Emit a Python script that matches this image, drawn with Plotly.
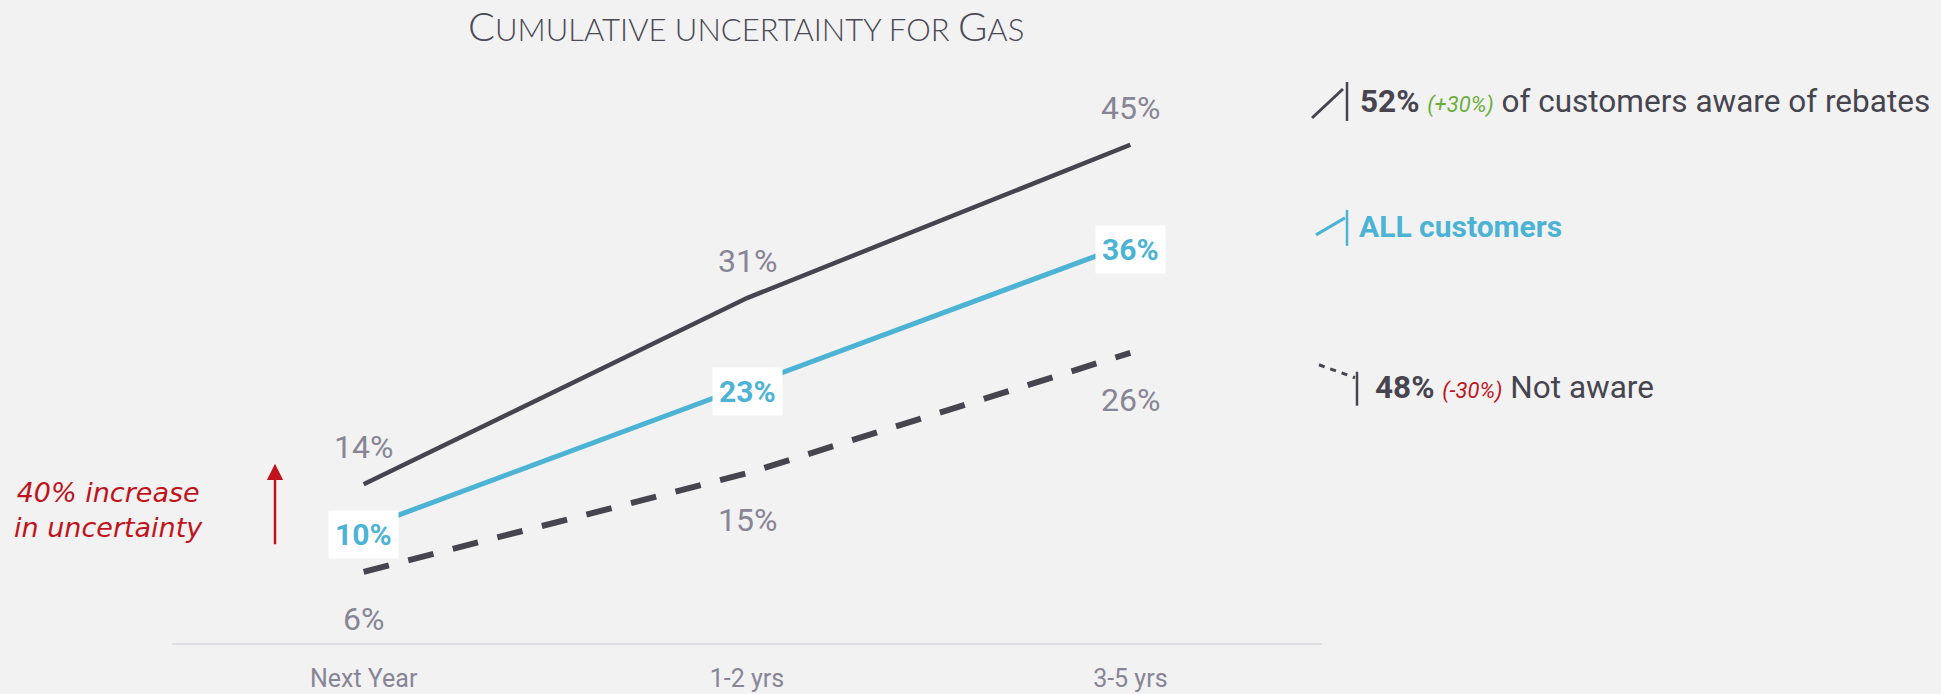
import plotly.graph_objects as go

categories = ["Next Year", "1-2 yrs", "3-5 yrs"]
aware = [14, 31, 45]
all_customers = [10, 23, 36]
not_aware = [6, 15, 26]

title_big_small = [("C", "UMULATIVE UNCERTAINTY FOR "), ("G", "AS")]
legend_aware = ("52%", "(+30%)", "of customers aware of rebates")
legend_all = "ALL customers"
legend_not = ("48%", "(-30%)", "Not aware")
note_text = "40% increase<br>in uncertainty"

DARK = "#46454f"
BLUE = "#4cb3d4"
GRAY = "#878596"
RED = "#c0141c"
GREEN = "#6aaf3d"
BG = "#f2f2f2"

W, H = 1941, 694
L, R, T, B = 172, 619, 90, 50.5
PW = W - L - R
PH = H - T - B


def px(x):
    return (x - L) / PW


def py(y):
    return (H - B - y) / PH


xs = list(range(len(categories)))

fig = go.Figure()
fig.add_trace(go.Scatter(x=xs, y=aware, mode="lines",
                         line=dict(color=DARK, width=4.5), hoverinfo="skip"))
fig.add_trace(go.Scatter(x=xs, y=all_customers, mode="lines",
                         line=dict(color=BLUE, width=5), hoverinfo="skip"))
fig.add_trace(go.Scatter(x=xs, y=not_aware, mode="lines",
                         line=dict(color=DARK, width=6, dash="26px,20px"),
                         hoverinfo="skip"))

ann = []
for x, v in zip(xs, aware):
    ann.append(dict(x=x, y=v, text=f"{v}%", showarrow=False, yshift=37,
                    font=dict(family="Roboto", size=32, color=GRAY)))
for x, v in zip(xs, not_aware):
    ann.append(dict(x=x, y=v, text=f"{v}%", showarrow=False, yshift=-47,
                    font=dict(family="Roboto", size=32, color=GRAY)))
for x, v in zip(xs, all_customers):
    ann.append(dict(x=x, y=v, text=f"<b>{v}%</b>", showarrow=False, yshift=-6,
                    bgcolor="white", borderpad=6,
                    font=dict(family="Roboto", size=30, color=BLUE)))

# title (small caps emulation)
ttl = "".join(f"<span style='font-size:40px'>{a}</span>{b}" for a, b in title_big_small)
ann.append(dict(xref="paper", yref="paper", x=px(746), y=py(0), text=ttl,
                showarrow=False, xanchor="center", yanchor="top",
                font=dict(family="Lato", size=31, color="#4a4955", weight=300)))

# legend texts
ann.append(dict(xref="paper", yref="paper", x=px(1358), y=py(102), xanchor="left",
                yanchor="middle", showarrow=False,
                text=f"<b>{legend_aware[0]}</b> <i><span style='color:{GREEN};font-size:22px'>{legend_aware[1]}</span></i> {legend_aware[2]}",
                font=dict(family="Roboto", size=31.5, color=DARK)))
ann.append(dict(xref="paper", yref="paper", x=px(1357), y=py(227), xanchor="left",
                yanchor="middle", showarrow=False, text=f"<b>{legend_all}</b>",
                font=dict(family="Roboto", size=30, color=BLUE)))
ann.append(dict(xref="paper", yref="paper", x=px(1373), y=py(388), xanchor="left",
                yanchor="middle", showarrow=False,
                text=f"<b>{legend_not[0]}</b> <i><span style='color:{RED};font-size:22px'>{legend_not[1]}</span></i> {legend_not[2]}",
                font=dict(family="Roboto", size=31.5, color=DARK)))

# red note + arrow
ann.append(dict(xref="paper", yref="paper", x=px(108), y=py(510), xanchor="center",
                yanchor="middle", showarrow=False, text=f"<i>{note_text}</i>",
                font=dict(family="DejaVu Sans", size=27, color=RED)))
ann.append(dict(xref="paper", yref="paper", x=px(275), y=py(464), ax=0, ay=82,
                text="", showarrow=True, arrowhead=2, arrowsize=1.3,
                arrowwidth=2.5, arrowcolor=RED))

shapes = [
    dict(type="line", xref="paper", yref="paper", x0=px(1312), y0=py(118),
         x1=px(1343), y1=py(89), line=dict(color=DARK, width=3)),
    dict(type="line", xref="paper", yref="paper", x0=px(1347), y0=py(82),
         x1=px(1347), y1=py(121), line=dict(color=DARK, width=2.5)),
    dict(type="line", xref="paper", yref="paper", x0=px(1316), y0=py(235),
         x1=px(1345), y1=py(218), line=dict(color=BLUE, width=3)),
    dict(type="line", xref="paper", yref="paper", x0=px(1347), y0=py(210),
         x1=px(1347), y1=py(246), line=dict(color=BLUE, width=2.5)),
    dict(type="line", xref="paper", yref="paper", x0=px(1319), y0=py(365),
         x1=px(1355), y1=py(378), line=dict(color=DARK, width=3, dash="6px,6px")),
    dict(type="line", xref="paper", yref="paper", x0=px(1357), y0=py(372),
         x1=px(1357), y1=py(406), line=dict(color=DARK, width=2.5)),
]

fig.update_layout(
    width=W, height=H,
    margin=dict(l=L, r=R, t=T, b=B, autoexpand=False),
    paper_bgcolor=BG, plot_bgcolor=BG,
    showlegend=False,
    annotations=ann, shapes=shapes,
    xaxis=dict(range=[-0.5, 2.5], tickmode="array", tickvals=xs, ticktext=categories,
               showgrid=False, zeroline=False, showline=True, linecolor="#dddde2",
               linewidth=2, ticks="", ticklen=0, ticklabelstandoff=12,
               automargin=False,
               tickfont=dict(family="Roboto", size=25, color=GRAY)),
    yaxis=dict(range=[-0.5, 50], visible=False, showgrid=False, zeroline=False,
               automargin=False),
)

fig.write_html("out.html", config={"displayModeBar": False},
               post_script="document.body.style.margin='0';"
                           "document.body.style.background='#f2f2f2';")
